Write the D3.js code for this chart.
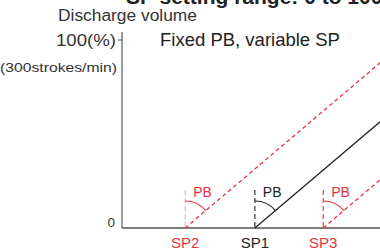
<!DOCTYPE html>
<html><head><meta charset="utf-8">
<script src="https://cdn.jsdelivr.net/npm/d3@7"></script>
<style>
html,body{margin:0;padding:0;background:#fff;}
svg{display:block;font-family:"Liberation Sans",Arial,sans-serif;}
</style></head>
<body>
<svg id="c" width="380" height="250"></svg>
<script>
// ---- data ----
const titleText = "SP setting range: 0 to 100%";
const yTitle = "Discharge volume";
const yTopLabel = "100(%)";
const yTopSub = "(300strokes/min)";
const subtitle = "Fixed PB, variable SP";
const spNames = ["SP2", "SP1", "SP3"];
const spValues = [24.5, 51.5, 78];      // set points (% of setting range)
const pbWidth = 86;                      // proportional band width (% of range)
const dischargeRange = [0, 100];         // discharge volume %
const yTickValues = [0, 100];
const pbLabel = "PB";

// ---- styles ----
const RED = "#e8323c", BLACK = "#222", AXIS = "#555";
const lineColor = n => n === "SP1" ? BLACK : RED;
const vColor = n => n === "SP1" ? "#333" : (n === "SP2" ? "#f5b5ba" : "#e8404a");

const svg = d3.select("#c");
const x = d3.scaleLinear().domain([0, 100]).range([122, 380]);
const y = d3.scaleLinear().domain(dischargeRange).range([228, 40]);

svg.append("clipPath").attr("id", "plot").append("rect")
  .attr("x", x(0)).attr("y", 0).attr("width", x(100) - x(0)).attr("height", y(0) + 1);

// title (clipped at top, as in the reference)
svg.append("text").attr("x", 126).attr("y", 4).attr("font-size", 21).attr("font-weight", "bold")
  .attr("fill", "#222").text(titleText);

svg.append("text").attr("x", 58).attr("y", 21).attr("font-size", 16).attr("fill", "#333")
  .attr("textLength", 139).attr("lengthAdjust", "spacingAndGlyphs").text(yTitle);
svg.append("text").attr("x", 160).attr("y", 46).attr("font-size", 18.5).attr("fill", "#222").text(subtitle);

// axes
svg.append("line").attr("x1", x(0)).attr("x2", x(0)).attr("y1", 32).attr("y2", y(0))
  .attr("stroke", AXIS).attr("stroke-width", 1.2);
svg.append("line").attr("x1", x(0)).attr("x2", 380).attr("y1", y(0)).attr("y2", y(0))
  .attr("stroke", AXIS).attr("stroke-width", 1.4);
svg.append("line").attr("x1", x(0) - 4).attr("x2", x(0)).attr("y1", y(100)).attr("y2", y(100))
  .attr("stroke", AXIS).attr("stroke-width", 1);

svg.append("text").attr("x", 116).attr("y", y(100) + 6).attr("text-anchor", "end")
  .attr("font-size", 17).attr("fill", "#333")
  .attr("textLength", 60).attr("lengthAdjust", "spacingAndGlyphs").text(yTopLabel);
svg.append("text").attr("x", 117).attr("y", 72).attr("text-anchor", "end")
  .attr("font-size", 12.5).attr("fill", "#333").attr("textLength", 117).attr("lengthAdjust", "spacingAndGlyphs")
  .text(yTopSub);
svg.append("text").attr("x", 115).attr("y", y(0) - 1).attr("text-anchor", "end")
  .attr("font-size", 13.5).attr("fill", "#333").text(yTickValues[0]);

// lines
const line = d3.line().x(d => x(d[0])).y(d => y(d[1]));
const g = svg.append("g").attr("clip-path", "url(#plot)");
spNames.forEach((n, i) => {
  const sp = spValues[i];
  g.append("path").datum([[sp, dischargeRange[0]], [sp + pbWidth, dischargeRange[1]]])
    .attr("d", line).attr("fill", "none")
    .attr("stroke", lineColor(n)).attr("stroke-width", 1.3)
    .attr("stroke-dasharray", n === "SP1" ? null : "4,3");
});

// vertical dashed marks, arcs, labels
const ang = Math.atan2(x(pbWidth) - x(0), y(0) - y(100));
const r = 27;
const arc = d3.arc().innerRadius(r).outerRadius(r).startAngle(0).endAngle(ang);
spNames.forEach((n, i) => {
  const sx = x(spValues[i]), sy = y(0);
  svg.append("line").attr("x1", sx).attr("x2", sx).attr("y1", 190).attr("y2", sy)
    .attr("stroke", vColor(n)).attr("stroke-width", 1.2).attr("stroke-dasharray", "5,3");
  svg.append("path").attr("d", arc()).attr("transform", `translate(${sx},${sy})`)
    .attr("fill", "none").attr("stroke", lineColor(n)).attr("stroke-width", 1.2);
  svg.append("text").attr("x", sx + 8).attr("y", 197).attr("font-size", 14)
    .attr("fill", lineColor(n)).text(pbLabel);
  svg.append("text").attr("x", sx).attr("y", 247.5).attr("text-anchor", "middle").attr("font-size", 15)
    .attr("fill", lineColor(n)).text(n);
});
</script>
</body></html>
